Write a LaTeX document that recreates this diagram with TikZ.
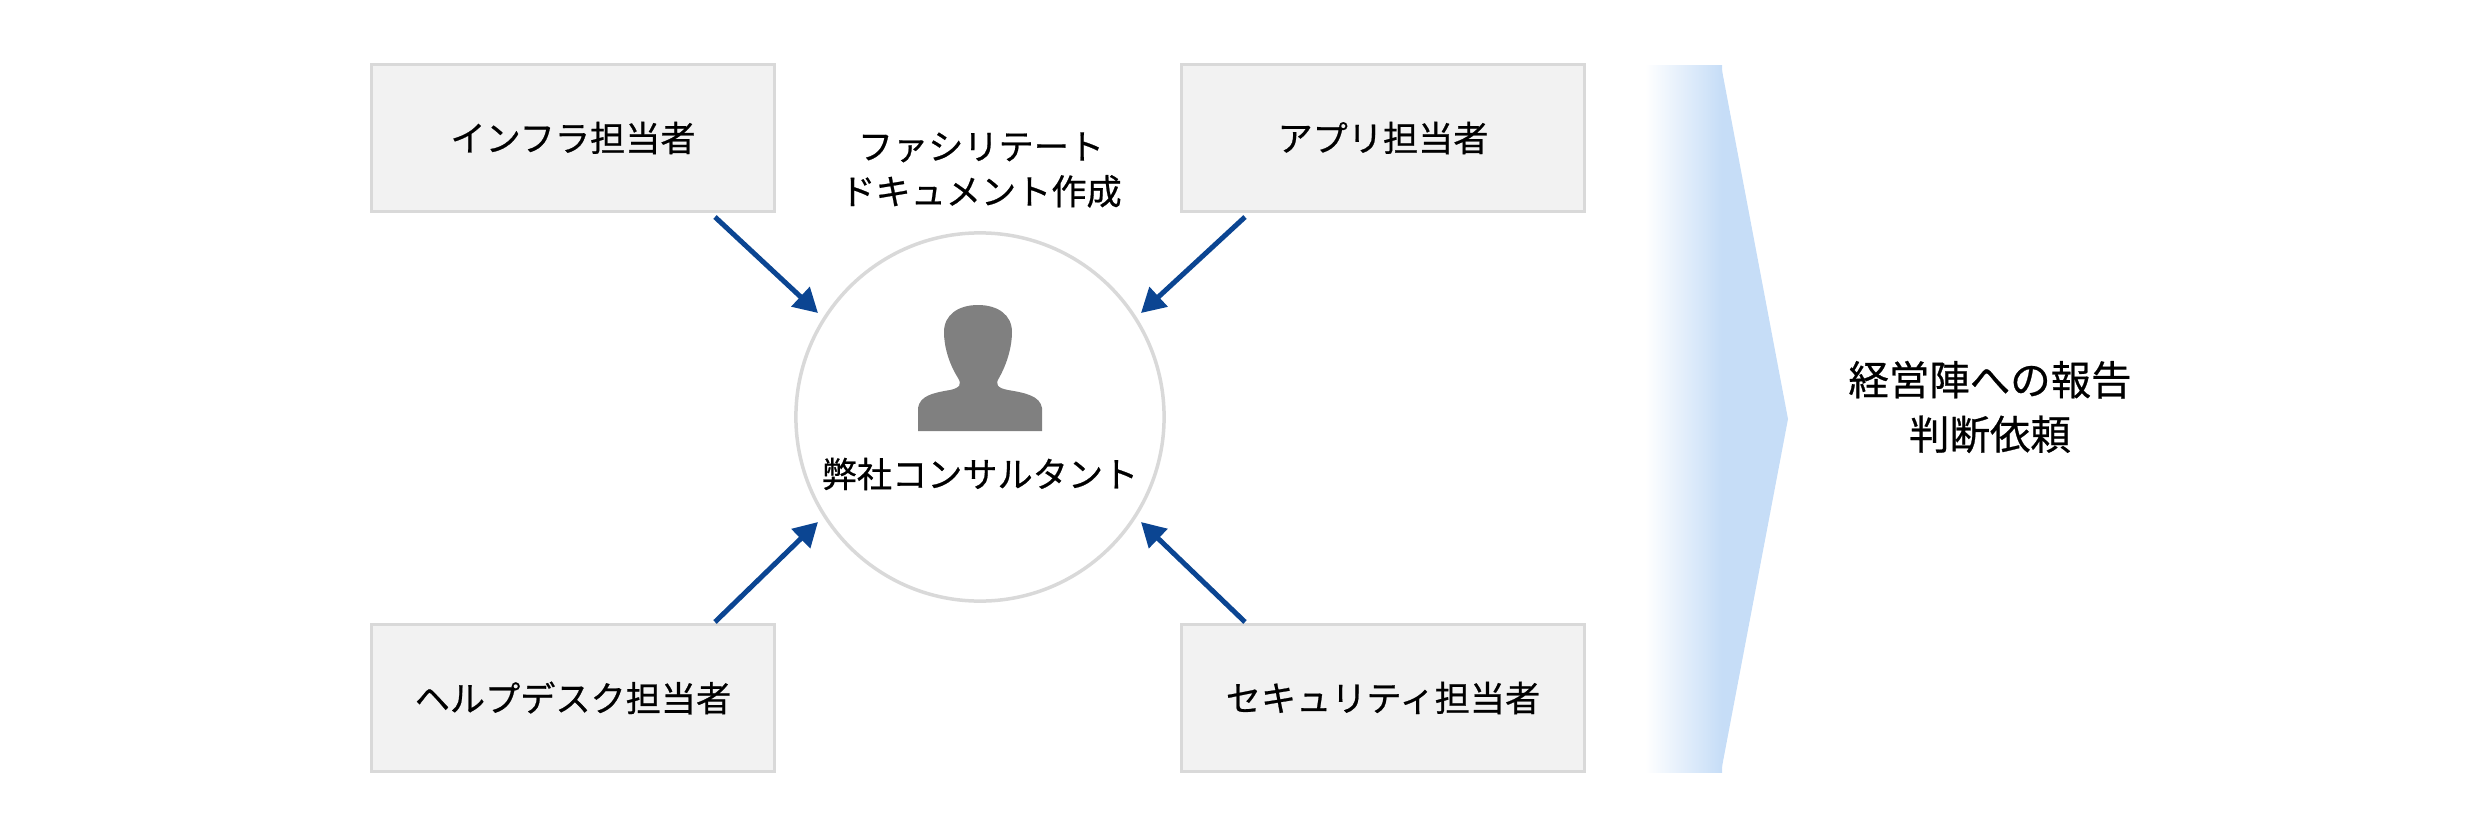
\documentclass[tikz,border=0pt]{standalone}
\usepackage{fontspec}
\setmainfont{Noto Sans CJK JP}[FakeBold=0.6]
\usetikzlibrary{arrows.meta}
\definecolor{boxfill}{HTML}{F2F2F2}
\definecolor{boxline}{HTML}{D9D9D9}
\definecolor{arr}{HTML}{0B4592}
\definecolor{chev}{HTML}{C6DDF7}
\tikzset{
 rolebox/.style={draw=boxline,line width=0.03cm,fill=boxfill,minimum width=4.03cm,minimum height=1.47cm,font=\fontsize{10pt}{12pt}\selectfont,inner sep=0},
 flow/.style={draw=arr,line width=0.05cm,-{Triangle[length=0.24cm,width=0.26cm]}},
 lbl/.style={font=\fontsize{10pt}{12.8pt}\selectfont,align=center,inner sep=0}
}
\begin{document}
\begin{tikzpicture}[x=0.01cm,y=-0.01cm]
\useasboundingbox (0,0) rectangle (2480,830);
% chevron
\fill[chev] (1721,65) -- (1788,419) -- (1721,772) -- cycle;
\shade[left color=white,right color=chev] (1645,65) rectangle (1722,772);
% boxes
\node[rolebox] (infra) at (573,138) {インフラ担当者};
\node[rolebox] (app) at (1383,138) {アプリ担当者};
\node[rolebox] (help) at (573,698) {ヘルプデスク担当者};
\node[rolebox] (sec) at (1383,698) {セキュリティ担当者};
% circle
\node[circle,draw=boxline,line width=0.035cm,minimum size=3.68cm,inner sep=0] (cons) at (980,417) {};
\fill[black!50] (918,431) -- (918,408) .. controls (920,396) and (932,393) .. (950,390) .. controls (960,388) and (962,384) .. (958,378) .. controls (948,362) and (944,345) .. (944,332) .. controls (944,315) and (958,305) .. (978,305) .. controls (998,305) and (1012,315) .. (1012,332) .. controls (1012,345) and (1008,362) .. (999,378) .. controls (995,384) and (997,388) .. (1008,390) .. controls (1026,393) and (1040,396) .. (1042,408) -- (1042,431) -- cycle;
\node[lbl] (consname) at (980,474) {弊社コンサルタント};
\node[lbl] (role) at (981,170) {ファシリテート\\ドキュメント作成};
\node[lbl,font=\fontsize{11.5pt}{15.5pt}\selectfont] (report) at (1990,407) {経営陣への報告\\判断依頼};
% arrows
\coordinate (a1) at (715,217); \coordinate (b1) at (818,313);
\coordinate (a2) at (1245,217); \coordinate (b2) at (1141,313);
\coordinate (a3) at (715,622); \coordinate (b3) at (818,522);
\coordinate (a4) at (1245,622); \coordinate (b4) at (1141,522);
\draw[flow] (a1) -- (b1);
\draw[flow] (a2) -- (b2);
\draw[flow] (a3) -- (b3);
\draw[flow] (a4) -- (b4);
\end{tikzpicture}
\end{document}
